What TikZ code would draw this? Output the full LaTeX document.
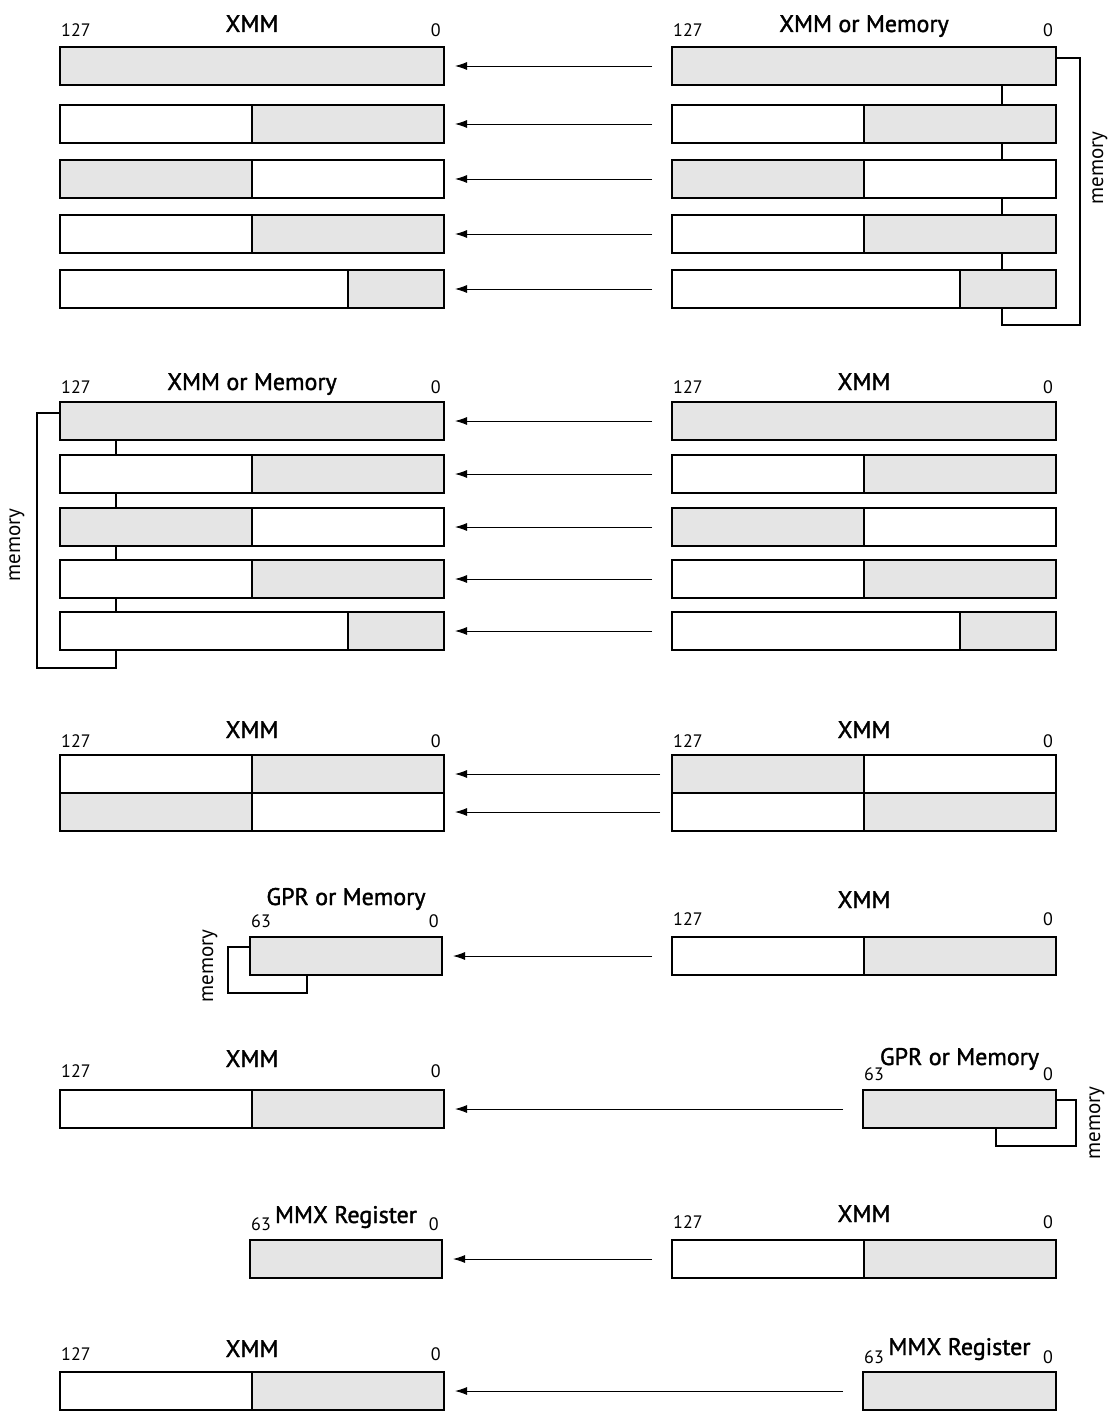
\documentclass[tikz,border=0pt]{standalone}
\usepackage{fontspec}
\setmainfont{PT Sans}
\newfontfamily\headfont{PT Sans}[FakeBold=1.5]
\usetikzlibrary{arrows.meta,backgrounds}

\definecolor{regfill}{gray}{0.9}

% register box: name, left, top, width, gray from, gray to (fractions of width)
\newcommand\regbox[6]{
    \node[reg, minimum width=#4] (#1) at (#2,#3) {};
    \draw[regline, fill=regfill] ({#2+#5*#4},#3) rectangle ({#2+#6*#4},{#3+38});
}
% heading: name, left, right, title base, number base, title, high bit
\newcommand\reghead[7]{
    \node[regtitle] (#1t) at ({(#2+#3)/2},#4) {#6};
    \node[bitnum, anchor=base west] (#1h) at ({#2+1},#5) {#7};
    \node[bitnum, anchor=base east] (#1l) at ({#3-3},#5) {0};
}

\begin{document}
\begin{tikzpicture}[x=1pt, y=-1pt,
    reg/.style={draw, fill=white, line width=2.8pt, anchor=north west, inner sep=0pt, outer sep=0pt, minimum height=38pt},
    regline/.style={line width=2.8pt},
    regtitle/.style={anchor=base, inner sep=0pt, font=\headfont\fontsize{24}{26}\selectfont},
    bitnum/.style={inner sep=0pt, font=\fontsize{18}{20}\selectfont},
    flow/.style={-{Latex[length=12pt,width=8pt]}, line width=0.9pt, shorten <=20pt, shorten >=11pt},
    memline/.style={line width=1.8pt},
    memlabel/.style={rotate=90, inner sep=0pt, font=\fontsize{21}{23}\selectfont}]
    \useasboundingbox (0,0) rectangle (1117,1412);

    % group 1: XMM <- XMM or Memory
    \reghead{g1l}{60}{444}{32}{37}{XMM}{127}
    \reghead{g1r}{672}{1056}{32}{37}{XMM or Memory}{127}
    \foreach \i/\y/\a/\b in {1/47/0/1, 2/105/0.5/1, 3/160/0/0.5, 4/215/0.5/1, 5/270/0.75/1}{
        \regbox{g1l\i}{60}{\y}{384}{\a}{\b}
        \regbox{g1r\i}{672}{\y}{384}{\a}{\b}
        \draw[flow] (g1r\i) -- (g1l\i);
    }
    % memory path on the right
    \begin{scope}[on background layer]
        \draw[memline] (g1r1.east |- 0,58) -| (1080,325) -| (g1r1.south -| 1002,0);
    \end{scope}
    \node[memlabel] (g1m) at (1100,168) {memory};

    % group 2: XMM or Memory <- XMM
    \reghead{g2l}{60}{444}{390}{393}{XMM or Memory}{127}
    \reghead{g2r}{672}{1056}{390}{393}{XMM}{127}
    \foreach \i/\y/\a/\b in {1/402/0/1, 2/455/0.5/1, 3/508/0/0.5, 4/560/0.5/1, 5/612/0.75/1}{
        \regbox{g2l\i}{60}{\y}{384}{\a}{\b}
        \regbox{g2r\i}{672}{\y}{384}{\a}{\b}
        \draw[flow] (g2r\i) -- (g2l\i);
    }
    % memory path on the left
    \begin{scope}[on background layer]
        \draw[memline] (g2l1.west |- 0,413) -| (37,668) -| (g2l1.south -| 116,0);
    \end{scope}
    \node[memlabel] (g2m) at (17,545) {memory};

    % group 3: swapped halves
    \reghead{g3l}{60}{444}{738}{747}{XMM}{127}
    \reghead{g3r}{672}{1056}{738}{747}{XMM}{127}
    \regbox{g3l1}{60}{755}{384}{0.5}{1}
    \regbox{g3l2}{60}{793}{384}{0}{0.5}
    \regbox{g3r1}{672}{755}{384}{0}{0.5}
    \regbox{g3r2}{672}{793}{384}{0.5}{1}
    \draw[flow, shorten <=12pt] (g3r1) -- (g3l1);
    \draw[flow, shorten <=12pt] (g3r2) -- (g3l2);

    % group 4: GPR or Memory <- XMM
    \reghead{g4l}{250}{442}{905}{927}{GPR or Memory}{63}
    \reghead{g4r}{672}{1056}{908}{925}{XMM}{127}
    \regbox{g4l}{250}{937}{192}{0}{1}
    \regbox{g4r}{672}{937}{384}{0.5}{1}
    \draw[flow] (g4r) -- (g4l);
    \begin{scope}[on background layer]
        \draw[memline] (g4l.west |- 0,947) -| (228,993) -| (g4l.south -| 307,0);
    \end{scope}
    \node[memlabel] (g4m) at (210,966) {memory};

    % group 5: XMM <- GPR or Memory
    \reghead{g5l}{60}{444}{1067}{1077}{XMM}{127}
    \reghead{g5r}{863}{1056}{1065}{1080}{GPR or Memory}{63}
    \regbox{g5l}{60}{1090}{384}{0.5}{1}
    \regbox{g5r}{863}{1090}{193}{0}{1}
    \draw[flow] (g5r) -- (g5l);
    \begin{scope}[on background layer]
        \draw[memline] (g5r.east |- 0,1100) -| (1076,1146) -| (g5r.south -| 996,0);
    \end{scope}
    \node[memlabel] (g5m) at (1097,1123) {memory};

    % group 6: MMX Register <- XMM
    \reghead{g6l}{250}{442}{1223}{1230}{MMX Register}{63}
    \reghead{g6r}{672}{1056}{1222}{1228}{XMM}{127}
    \regbox{g6l}{250}{1240}{192}{0}{1}
    \regbox{g6r}{672}{1240}{384}{0.5}{1}
    \draw[flow] (g6r) -- (g6l);

    % group 7: XMM <- MMX Register
    \reghead{g7l}{60}{444}{1357}{1360}{XMM}{127}
    \reghead{g7r}{863}{1056}{1355}{1363}{MMX Register}{63}
    \regbox{g7l}{60}{1372}{384}{0.5}{1}
    \regbox{g7r}{863}{1372}{193}{0}{1}
    \draw[flow] (g7r) -- (g7l);
\end{tikzpicture}
\end{document}
